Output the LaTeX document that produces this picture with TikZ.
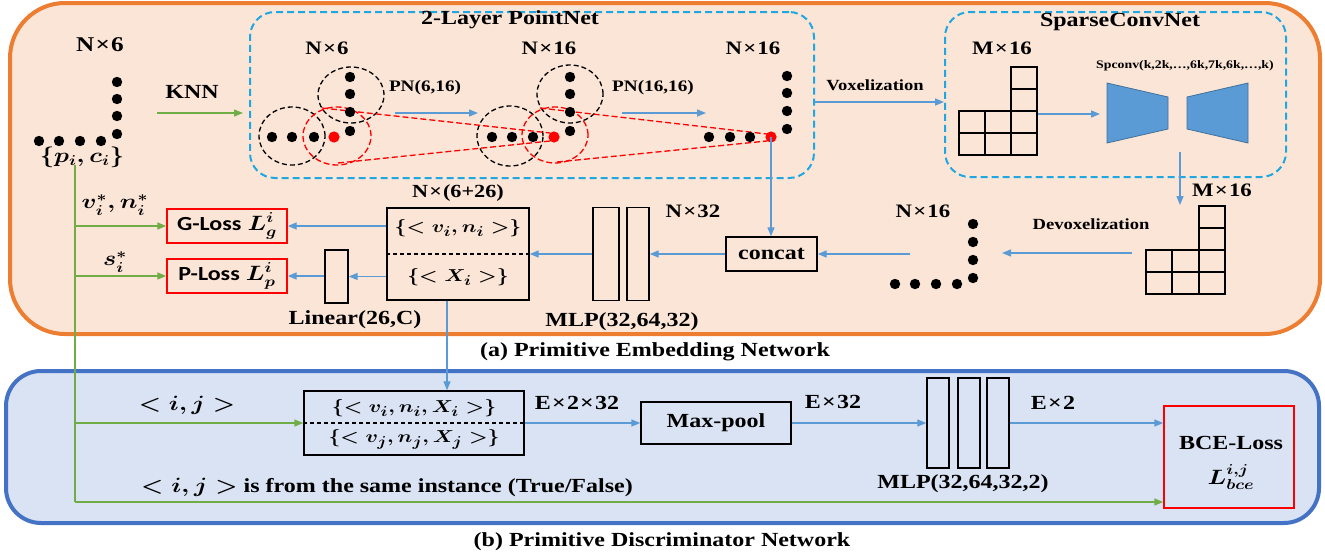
\documentclass[tikz,border=0pt]{standalone}
\usepackage{fontspec}
\setmainfont{Liberation Serif}
\newfontfamily\calib{Carlito}
\usepackage{graphicx}
\usetikzlibrary{arrows.meta}

\definecolor{embedEdge}{HTML}{ED7D31}
\definecolor{embedFill}{HTML}{FBE5D6}
\definecolor{discEdge}{HTML}{4472C4}
\definecolor{discFill}{HTML}{DAE3F3}
\definecolor{netEdge}{HTML}{1FA7E1}
\definecolor{flow}{HTML}{5B9BD5}
\definecolor{gt}{HTML}{70AD47}
\definecolor{convFill}{HTML}{5B9BD5}
\definecolor{convEdge}{HTML}{41719C}

% labels are set a little wider than the font
\newcommand\wide[1]{\scalebox{1.2}[1]{#1}}
\newcommand\tms{\kern.05em×\kern.05em}

\tikzset{
  lab/.style={inner sep=0pt, font=\fontsize{#1}{#1}\selectfont\bfseries\boldmath},
  lab/.default=19,
  frame/.style={draw=black, line width=1.4pt, inner sep=0pt},
  lossframe/.style={draw=red, line width=1.4pt, inner sep=0pt},
  netframe/.style={draw=netEdge, line width=2pt, dash pattern=on 7pt off 4pt,
                   rounded corners=25pt, inner sep=0pt},
  knnring/.style={draw=black, line width=1.3pt, dash pattern=on 5pt off 3pt},
  ballring/.style={draw=red, line width=1.3pt, dash pattern=on 6pt off 3pt},
  cell/.style={draw=black, line width=1.8pt},
  flowarrow/.style={draw=flow, line width=1.4pt, -{Triangle[length=9pt,width=7pt]}},
  gtarrow/.style={draw=gt, line width=1.4pt, -{Triangle[length=9pt,width=7pt]}},
  gtline/.style={draw=gt, line width=1.4pt},
  conv/.style={fill=convFill, draw=convEdge, line width=0.8pt},
}

\begin{document}
\begin{tikzpicture}[x=1pt,y=-1pt]
\useasboundingbox (0,0) rectangle (1325,554);
\fill[white] (0,0) rectangle (1325,554);

% ---------------- panels ----------------
\draw[embedEdge, fill=embedFill, line width=4pt, rounded corners=55pt] (10,3) rectangle (1320,334);
\draw[discEdge, fill=discFill, line width=4pt, rounded corners=35pt] (6,371) rectangle (1319,523);
\node[lab=20] (capA) at (655,352) {\wide{(a) Primitive Embedding Network}};
\node[lab=20] (capB) at (662,542) {\wide{(b) Primitive Discriminator Network}};

% ---------------- network frames ----------------
\node[netframe, minimum width=564, minimum height=166] (pnbox) at (532,95) {};
\node[netframe, minimum width=341, minimum height=165] (scbox) at (1115.5,94.5) {};
\node[lab=20] (pnTitle) at (510,20) {\wide{2-Layer PointNet}};
\node[lab=20] (scTitle) at (1120,22) {\wide{SparseConvNet}};

% ---------------- input point cloud ----------------
\node[lab=21] (nIn) at (100,45) {\wide{N\tms 6}};
\foreach \y in {82,99,116,134} \fill (117,\y) circle[radius=5.2pt];
\foreach \x in {39,59,80,101} \fill (\x,141) circle[radius=5.2pt];
\node[lab=20] (pc) at (82,157) {\wide{$\{p_i,c_i\}$}};
\node[lab=20] (knn) at (192,92) {\wide{KNN}};
\coordinate (knnA) at (157,113);
\coordinate (knnB) at (243,113);
\draw[gtarrow] (knnA) -- (knnB);

% ---------------- PointNet layers ----------------
\node[lab] (n6) at (327,48) {\wide{N\tms 6}};
\node[lab] (n16a) at (549,48) {\wide{N\tms 16}};
\node[lab] (n16b) at (753,48) {\wide{N\tms 16}};
\node[lab=16] (pn1) at (425,88) {\wide{PN(6,16)}};
\node[lab=16] (pn2) at (653,88) {\wide{PN(16,16)}};

% neighbourhoods
\draw[knnring] (292,136) ellipse[x radius=33pt, y radius=29pt];
\draw[knnring] (351,95) ellipse[x radius=33pt, y radius=28pt];
\draw[knnring] (510,136) ellipse[x radius=33pt, y radius=30pt];
\draw[knnring] (570,94) ellipse[x radius=33pt, y radius=29pt];
\draw[ballring] (337,136) ellipse[x radius=34pt, y radius=29pt];
\draw[ballring] (555,135) ellipse[x radius=33pt, y radius=28pt];
\draw[ballring] (322,108) -- (550,133);
\draw[ballring] (338,163) -- (550,141);
\draw[ballring] (540,108) -- (767,134);
\draw[ballring] (557,162) -- (767,141);

% points of each layer
\foreach \y in {77,94,112,131} \fill (350,\y) circle[radius=5.2pt];
\foreach \x in {272,292,314} \fill (\x,137) circle[radius=5.2pt];
\foreach \y in {77,94,112,131} \fill (570,\y) circle[radius=5.2pt];
\foreach \x in {492,512,533} \fill (\x,137) circle[radius=5.2pt];
\foreach \y in {76,93,111,129} \fill (787,\y) circle[radius=5.2pt];
\foreach \x in {709,730,750} \fill (\x,137) circle[radius=5.2pt];
\coordinate (r1) at (334,137);
\coordinate (r2) at (554,137);
\coordinate (r3) at (771,137);
\foreach \r in {r1,r2,r3} \fill[red] (\r) circle[radius=5.6pt];

\coordinate (pnA1) at (395,113);
\coordinate (pnB1) at (478,113);
\coordinate (pnA2) at (622,113);
\coordinate (pnB2) at (706,113);
\draw[flowarrow] (pnA1) -- (pnB1);
\draw[flowarrow] (pnA2) -- (pnB2);

% ---------------- voxelization ----------------
\coordinate (voxrow) at (880,102);
\node[lab=15.5] (vox) at (875,85) {\wide{Voxelization}};
\draw[flowarrow] (pnbox.east |- voxrow) -- (scbox.west |- voxrow);

% ---------------- sparse conv net ----------------
\node[lab] (m16a) at (1002,48) {\wide{M\tms 16}};
\foreach \c in {0,1,2} \foreach \r in {0,1}
  \draw[cell] (959+26*\c,155-22*\r) rectangle ++(26,-22);
\foreach \r in {2,3} \draw[cell] (1011,155-22*\r) rectangle ++(26,-22);
\coordinate (g1out) at (1038,114);
\coordinate (encIn) at (1100,114);
\draw[flowarrow] (g1out) -- (encIn);
\draw[conv] (1107,83) -- (1168,97) -- (1168,129) -- (1107,143) -- cycle;
\draw[conv] (1187,97) -- (1248,83) -- (1248,143) -- (1187,129) -- cycle;
\node[lab=11.5] (spc) at (1185,66) {\wide{Spconv(k,2k,…,6k,7k,6k,…,k)}};

% ---------------- devoxelization ----------------
\coordinate (decOut) at (1180,152);
\coordinate (g2in) at (1180,205);
\draw[flowarrow] (decOut) -- (g2in);
\node[lab] (m16b) at (1222,190) {\wide{M\tms 16}};
\foreach \c in {0,1,2} \foreach \r in {0,1}
  \draw[cell] (1146+26.3*\c,294-22*\r) rectangle ++(26.3,-22);
\foreach \r in {2,3} \draw[cell] (1198.6,294-22*\r) rectangle ++(26.3,-22);
\node[lab=15.5] (devox) at (1091,224) {\wide{Devoxelization}};
\coordinate (devoxA) at (1132,253);
\coordinate (devoxB) at (1002,253);
\draw[flowarrow] (devoxA) -- (devoxB);

\node[lab] (n16c) at (923,211) {\wide{N\tms 16}};
\foreach \y in {224,242,260,278} \fill (973,\y) circle[radius=5.2pt];
\foreach \x in {895,915,936,957} \fill (\x,284) circle[radius=5.2pt];

% ---------------- fusion and heads ----------------
\node[frame, lab=20, minimum width=91, minimum height=34] (concat) at (771.5,254) {\wide{concat}};
\coordinate (dotsOut) at (910,254);
\draw[flowarrow] (dotsOut) -- (concat.east);
\draw[flowarrow] (r3) -- (r3 |- concat.north);

\node[frame, minimum width=26, minimum height=93] (mlpA) at (606,254) {};
\node[frame, minimum width=22, minimum height=93] (mlpB) at (638,254) {};
\node[lab] (n32) at (693,211) {\wide{N\tms 32}};
\node[lab=20] (mlp1) at (622,322) {\wide{MLP(32,64,32)}};
\draw[flowarrow] (concat.west) -- (mlpB.east);

\node[frame, minimum width=142, minimum height=92] (feat) at (458,254) {};
\draw[black, line width=1.2pt, dash pattern=on 4pt off 3pt] (feat.west) -- (feat.east);
\node[lab=18.5] (featN) at (458,193) {\wide{N\tms(6+26)}};
\node[lab] (featG) at (458,228) {\wide{$\{<v_i,n_i>\}$}};
\node[lab] (featX) at (458,277) {\wide{$\{<X_i>\}$}};
\draw[flowarrow] (mlpA.west) -- (feat.east);

\node[frame, minimum width=23, minimum height=53] (linear) at (336.5,276.5) {};
\node[lab=20] (linLab) at (355,320) {\wide{Linear(26,C)}};

\node[lossframe, lab=20, minimum width=120, minimum height=34] (gloss) at (227,226)
  {\wide{{\calib G-Loss} $L^i_g$}};
\node[lossframe, lab=20, minimum width=120, minimum height=34] (ploss) at (227,276)
  {\wide{{\calib P-Loss} $L^i_p$}};
\draw[flowarrow] (feat.west |- gloss) -- (gloss.east);
\draw[flowarrow] (feat.west |- linear) -- (linear.east);
\draw[flowarrow] (linear.west |- ploss) -- (ploss.east);

\node[lab=20] (vnStar) at (115,205) {\wide{$v_i^*,n_i^*$}};
\node[lab=20] (sStar) at (115,262) {\wide{$s_i^*$}};

% ---------------- discriminator ----------------
\node[frame, minimum width=220, minimum height=64] (pair) at (414,423) {};
\draw[black, line width=1.2pt, dash pattern=on 4pt off 3pt] (pair.west) -- (pair.east);
\node[lab] (pairI) at (414,408) {\wide{$\{<v_i,n_i,X_i>\}$}};
\node[lab] (pairJ) at (414,439) {\wide{$\{<v_j,n_j,X_j>\}$}};
\coordinate (featDrop) at (447,0);
\draw[flowarrow] (feat.south -| featDrop) -- (pair.north -| featDrop);

\node[frame, lab=20, minimum width=150, minimum height=42] (maxpool) at (716,423) {\wide{Max-pool}};
\node[frame, minimum width=22, minimum height=90] (mlpC) at (938,423) {};
\node[frame, minimum width=22, minimum height=90] (mlpD) at (969,423) {};
\node[frame, minimum width=22, minimum height=90] (mlpE) at (998,423) {};
\node[lossframe, minimum width=130, minimum height=102] (bce) at (1229,457) {};
\node[lab=20] (bceT) at (1231,443) {\wide{BCE-Loss}};
\node[lab=20] (bceL) at (1231,477) {\wide{$L^{i,j}_{bce}$}};

\node[lab=20] (e232) at (577,403) {\wide{E\tms 2\tms 32}};
\node[lab=20] (e32) at (833,402) {\wide{E\tms 32}};
\node[lab=20] (e2) at (1053,403) {\wide{E\tms 2}};
\node[lab=20] (mlp2) at (963,484) {\wide{MLP(32,64,32,2)}};

\draw[flowarrow] (pair.east) -- (maxpool.west);
\draw[flowarrow] (maxpool.east) -- (mlpC.west);
\draw[flowarrow] (mlpE.east) -- (bce.west |- mlpE);

\node[lab=20] (ijLab) at (187,405) {\wide{$<i,j>$}};
\node[lab=20] (same) at (387,487) {\wide{$<i,j>$ is from the same instance (True/False)}};

% ---------------- ground-truth feeds ----------------
\coordinate (gtTop) at (75,165);
\coordinate (gtBot) at (75,502);
\draw[gtline] (gtTop) -- (gtBot);
\draw[gtarrow] (gtTop |- gloss) -- (gloss.west);
\draw[gtarrow] (gtTop |- ploss) -- (ploss.west);
\draw[gtarrow] (gtTop |- pair) -- (pair.west);
\draw[gtarrow] (gtBot) -- (bce.west |- gtBot);
\end{tikzpicture}
\end{document}
